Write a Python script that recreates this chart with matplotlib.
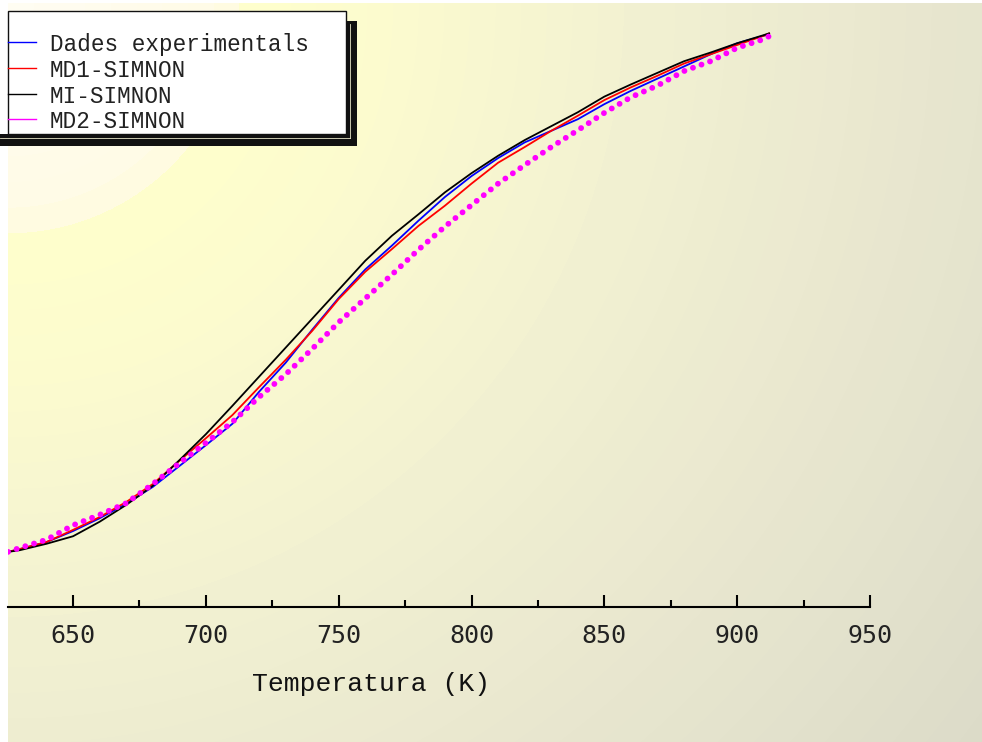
import numpy as np
import matplotlib
matplotlib.use("Agg")
import matplotlib.pyplot as plt
from matplotlib.lines import Line2D
from matplotlib.patches import Rectangle
from matplotlib.colors import LinearSegmentedColormap

# temperature (K) and conversion
temp = [625.5, 630, 640, 650, 660, 670, 680, 690, 700, 710, 720, 730, 740, 750, 760,
        770, 780, 790, 800, 810, 820, 830, 840, 850, 860, 870, 880, 890, 900, 910, 912]

exp_y = [0.095, 0.100, 0.112, 0.131, 0.153, 0.178, 0.207, 0.243, 0.279, 0.316, 0.371,
         0.421, 0.478, 0.533, 0.582, 0.623, 0.666, 0.707, 0.743, 0.774, 0.801, 0.821,
         0.841, 0.867, 0.890, 0.911, 0.932, 0.953, 0.972, 0.985, 0.987]
md1_y = [0.095, 0.100, 0.112, 0.133, 0.155, 0.181, 0.212, 0.252, 0.291, 0.331, 0.379,
         0.426, 0.476, 0.531, 0.578, 0.617, 0.657, 0.692, 0.730, 0.766, 0.793, 0.821,
         0.847, 0.874, 0.896, 0.916, 0.937, 0.953, 0.969, 0.985, 0.989]
mi_y = [0.095, 0.098, 0.109, 0.122, 0.147, 0.176, 0.209, 0.253, 0.298, 0.347, 0.397,
        0.447, 0.497, 0.547, 0.597, 0.640, 0.677, 0.715, 0.748, 0.778, 0.805, 0.829,
        0.853, 0.880, 0.901, 0.921, 0.941, 0.956, 0.972, 0.986, 0.989]
md2_y = [0.095, 0.102, 0.116, 0.141, 0.159, 0.179, 0.212, 0.248, 0.283, 0.319, 0.362,
         0.401, 0.445, 0.491, 0.532, 0.573, 0.616, 0.656, 0.693, 0.730, 0.762, 0.793,
         0.822, 0.852, 0.879, 0.899, 0.924, 0.941, 0.964, 0.979, 0.984]

labels = ['Dades experimentals', 'MD1-SIMNON', 'MI-SIMNON', 'MD2-SIMNON']
colors = ['#0000ff', '#ff0000', '#000000', '#ff00ff']

W, H = 982, 742
fig = plt.figure(figsize=(W / 100, H / 100), dpi=100)
fig.patch.set_facecolor('white')

def fx(px):
    return px / W

def fy(py):
    return 1 - py / H

# background gradient
bg = fig.add_axes([fx(8), 0, 1 - fx(8), fy(3)])
bg.set_axis_off()
yy, xx = np.mgrid[0:H, 0:W - 8]
d = np.sqrt(xx ** 2 + yy ** 2) / np.hypot(W, H)
cmap = LinearSegmentedColormap.from_list('bg', [
    (0.0, '#fffdf2'), (0.16, '#fffbe6'), (0.185, '#ffffcc'), (0.3, '#fcfbcf'),
    (0.5, '#f2f1d2'), (0.75, '#e8e6cf'), (1.0, '#dcdbc8')])
bg.imshow(np.floor(d * 48) / 48, cmap=cmap, vmin=0, vmax=1, aspect='auto',
          interpolation='nearest')

ax = fig.add_axes([fx(8), fy(607), fx(870) - fx(8), fy(27) - fy(607)])
ax.patch.set_alpha(0)
ax.plot(temp, exp_y, color=colors[0], lw=1.3)
ax.plot(temp, md1_y, color=colors[1], lw=1.3)
ax.plot(temp, mi_y, color=colors[2], lw=1.3)
ax.plot(temp, md2_y, color=colors[3], lw=4.2, linestyle=(0, (0.01, 1.55)),
        dash_capstyle='round')
ax.set_xlim(625.5, 950)
ax.set_ylim(0, 1)

for s in ['top', 'right', 'left']:
    ax.spines[s].set_visible(False)
ax.spines['bottom'].set_linewidth(1.5)
ax.spines['bottom'].set_bounds(625.5, 950)
ax.set_yticks([])
ax.set_xticks([650, 700, 750, 800, 850, 900, 950])
ax.set_xticks([675, 725, 775, 825, 875, 925], minor=True)
ax.tick_params(axis='x', which='major', direction='in', length=9, width=1.5,
               pad=12, labelsize=18, labelcolor='#222222')
ax.tick_params(axis='x', which='minor', direction='in', length=5, width=1.5)
for t in ax.get_xticklabels():
    t.set_fontfamily('DejaVu Sans Mono')

fig.text(fx(371), fy(684), 'Temperatura (K)', family='Liberation Mono', fontsize=19,
         ha='center', va='center', color='#111111')

# legend box with shadow
fig.add_artist(Rectangle((fx(0), fy(146)), fx(357), fy(134) - fy(146),
                         transform=fig.transFigure, color='#111111', lw=0))
fig.add_artist(Rectangle((fx(347), fy(146)), fx(10), fy(21) - fy(146),
                         transform=fig.transFigure, color='#111111', lw=0))
fig.add_artist(Line2D([fx(350), fx(350)], [fy(24), fy(138)], transform=fig.transFigure,
                      color='#e8e6c8', lw=0.6))
fig.add_artist(Line2D([fx(0), fx(350)], [fy(138), fy(138)], transform=fig.transFigure,
                      color='#e8e6c8', lw=0.6))
fig.add_artist(Rectangle((fx(8), fy(134)), fx(346) - fx(8), fy(11) - fy(134),
                         transform=fig.transFigure, facecolor='white',
                         edgecolor='#111111', lw=1.0))

rows = [42, 68, 94, 119]
for lab, col, r in zip(labels, colors, rows):
    fig.add_artist(Line2D([fx(8), fx(36)], [fy(r), fy(r)], transform=fig.transFigure,
                          color=col, lw=1.0))
    fig.text(fx(50), fy(r), lab, family='Liberation Mono', fontsize=16.3,
             ha='left', va='center_baseline', color='#222222')

fig.savefig('out.png', dpi=100)
